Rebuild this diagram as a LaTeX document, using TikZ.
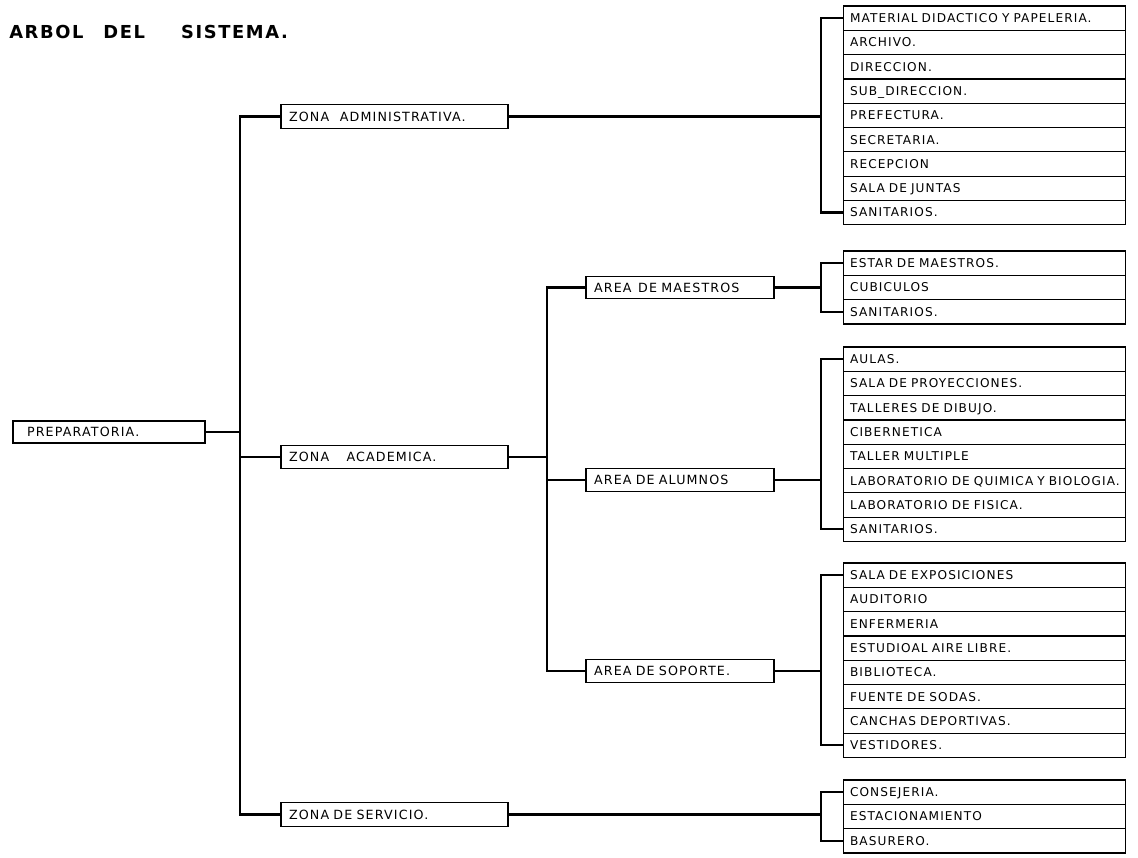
\documentclass[tikz,border=0pt]{standalone}
\usepackage{fontspec}
\setmainfont{DejaVu Sans}
\newfontfamily\lettering[LetterSpace=9,WordSpace=1.7]{DejaVu Sans}
\usetikzlibrary{positioning}

\tikzset{
  box/.style={draw, line width=0.9pt, inner xsep=6pt, align=left,
    text height=6.8pt, text depth=0pt, font=\lettering\fontsize{9.5}{11}\selectfont},
  zonebox/.style={box, text width=158.25pt, minimum height=17.5pt},
  areabox/.style={box, text width=129pt, minimum height=17pt},
  rowbox/.style={box, text width=201.75pt, minimum height=18.225pt, inner xsep=5pt,
    text height=6.6pt, font=\lettering\fontsize{9.1}{11}\selectfont},
  link/.style={line width=1.6pt},
}

\begin{document}
\begin{tikzpicture}[x=0.75pt, y=-0.75pt]
    \useasboundingbox (0,0) rectangle (1138,857);
    % title
    \node[anchor=west, inner sep=0pt, font=\lettering\bfseries\fontsize{13.4}{16}\selectfont]
      (title) at (9,32) {ARBOL\hspace{15pt}DEL\hspace{27pt}SISTEMA.};
    % root and zones
    \node[box, text width=123pt, inner xsep=10.5pt, minimum height=16.5pt] (prep) at (109,432) {PREPARATORIA.};
    \node[zonebox] (zadm) at (394.5,116.5) {ZONA\hspace{8pt}ADMINISTRATIVA.};
    \node[zonebox] (zaca) at (394.5,457) {ZONA\hspace{13pt}ACADEMICA.};
    \node[zonebox] (zser) at (394.5,814.5) {ZONA DE SERVICIO.};
    % areas of the academic zone
    \node[areabox] (mae) at (680,287.5) {AREA\hspace{5pt}DE MAESTROS};
    \node[areabox] (alu) at (680,480) {AREA DE ALUMNOS};
    \node[areabox] (sop) at (680,671) {AREA DE SOPORTE.};
    % lists of spaces, one row per node
    \foreach \txt [count=\i] in {MATERIAL DIDACTICO Y PAPELERIA., ARCHIVO., DIRECCION.,
        SUB\_DIRECCION., PREFECTURA., SECRETARIA., RECEPCION, SALA DE JUNTAS, SANITARIOS.}
      \node[rowbox] (adm\i) at (984.5,{6+(\i-0.5)*24.3}) {\mbox{\txt}};
    \foreach \txt [count=\i] in {ESTAR DE MAESTROS., CUBICULOS, SANITARIOS.}
      \node[rowbox] (mae\i) at (984.5,{251+(\i-0.5)*24.3}) {\mbox{\txt}};
    \foreach \txt [count=\i] in {AULAS., SALA DE PROYECCIONES., TALLERES DE DIBUJO., CIBERNETICA,
        TALLER MULTIPLE, LABORATORIO DE QUIMICA Y BIOLOGIA., LABORATORIO DE FISICA., SANITARIOS.}
      \node[rowbox] (alu\i) at (984.5,{347+(\i-0.5)*24.3}) {\mbox{\txt}};
    \foreach \txt [count=\i] in {SALA DE EXPOSICIONES, AUDITORIO, ENFERMERIA, ESTUDIOAL AIRE LIBRE.,
        BIBLIOTECA., FUENTE DE SODAS., CANCHAS DEPORTIVAS., VESTIDORES.}
      \node[rowbox] (sop\i) at (984.5,{563+(\i-0.5)*24.3}) {\mbox{\txt}};
    \foreach \txt [count=\i] in {CONSEJERIA., ESTACIONAMIENTO, BASURERO.}
      \node[rowbox] (ser\i) at (984.5,{780+(\i-0.5)*24.3}) {\mbox{\txt}};
    % main trunk
    \draw[link] (zadm.west) -- ++(-40,0) coordinate (trunk) |- (zser.west);
    \draw[link] (prep.east) -- (prep.east -| trunk);
    \draw[link] (zaca.west) -- (zaca.west -| trunk);
    % academic branch
    \draw[link] (mae.west) -- ++(-38,0) coordinate (acad) |- (sop.west);
    \draw[link] (zaca.east) -- (zaca.east -| acad);
    \draw[link] (alu.west) -- (alu.west -| acad);
    % brackets into the lists
    \draw[link] (adm1.west) -- ++(-22,0) coordinate (kadm) |- (adm9.west);
    \draw[link] (zadm.east) -- (zadm.east -| kadm);
    \draw[link] (mae1.west) -- ++(-22,0) coordinate (kmae) |- (mae3.west);
    \draw[link] (mae.east) -- (mae.east -| kmae);
    \draw[link] (alu1.west) -- ++(-22,0) coordinate (kalu) |- (alu8.west);
    \draw[link] (alu.east) -- (alu.east -| kalu);
    \draw[link] (sop1.west) -- ++(-22,0) coordinate (ksop) |- (sop8.west);
    \draw[link] (sop.east) -- (sop.east -| ksop);
    \draw[link] (ser1.west) -- ++(-22,0) coordinate (kser) |- (ser3.west);
    \draw[link] (zser.east) -- (zser.east -| kser);
\end{tikzpicture}
\end{document}
